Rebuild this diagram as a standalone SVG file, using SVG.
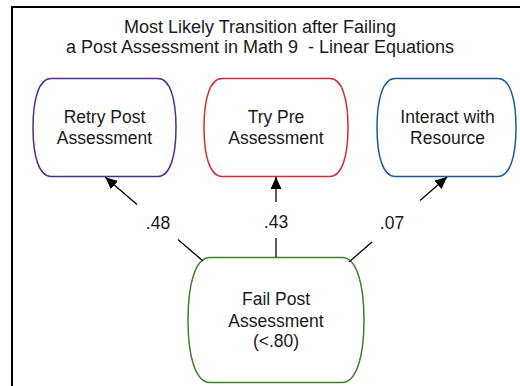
<svg xmlns="http://www.w3.org/2000/svg" width="520" height="386" viewBox="0 0 520 386">
<defs>
<style>
text{font-family:"Liberation Sans",Arial,Helvetica,sans-serif;font-size:17.5px;fill:#1a1a1a;text-anchor:middle}
.title{font-size:18px;white-space:pre}
.node{fill:#fff;stroke-width:1.5}
.edge{stroke:#000;stroke-width:1.3;fill:none}
</style>
<marker id="ah" viewBox="0 0 12 11" refX="12" refY="5.5" markerWidth="12" markerHeight="11" markerUnits="userSpaceOnUse" orient="auto">
<path d="M0,0 L12,5.5 L0,11 z" fill="#000"/>
</marker>
</defs>
<rect width="520" height="386" fill="#fff"/>
<rect x="12" y="7" width="540" height="420" fill="none" stroke="#000" stroke-width="2"/>
<g id="title">
<text class="title" x="260" y="33">Most Likely Transition after Failing</text>
<text class="title" x="260" y="53" xml:space="preserve">a Post Assessment in Math 9  - Linear Equations</text>
</g>
<g id="retry">
<path class="node" stroke="#502d91" d="M51,78.5 H158 C169.7,78.5 176,98 176,127.5 C176,157 169.7,176.5 158,176.5 H51 C39.3,176.5 33,157 33,127.5 C33,98 39.3,78.5 51,78.5 Z"/>
<text x="104.5" y="123">Retry Post</text>
<text x="104.5" y="144">Assessment</text>
</g>
<g id="trypre">
<path class="node" stroke="#d12b3a" d="M222,78.5 H330 C341.7,78.5 348,98 348,127.5 C348,157 341.7,176.5 330,176.5 H222 C210.3,176.5 204,157 204,127.5 C204,98 210.3,78.5 222,78.5 Z"/>
<text x="276" y="123">Try Pre</text>
<text x="276" y="144">Assessment</text>
</g>
<g id="interact">
<path class="node" stroke="#1d5a9c" d="M395,78.5 H498 C509.7,78.5 516,98 516,127.5 C516,157 509.7,176.5 498,176.5 H395 C383.3,176.5 377,157 377,127.5 C377,98 383.3,78.5 395,78.5 Z"/>
<text x="447.5" y="123">Interact with</text>
<text x="447.5" y="144">Resource</text>
</g>
<g id="fail">
<path class="node" stroke="#3f8125" d="M210,257.5 H342 C356,257.5 364,282 364,320 C364,358 356,382.5 342,382.5 H210 C196,382.5 188,358 188,320 C188,282 196,257.5 210,257.5 Z"/>
<text x="276" y="305">Fail Post</text>
<text x="276" y="327">Assessment</text>
<text x="276" y="347">(&lt;.80)</text>
</g>
<g id="connectors">
<path class="edge" d="M203,261 L178,239.6"/>
<path class="edge" d="M137,204.4 L105.3,177.3" marker-end="url(#ah)"/>
<text x="158" y="229">.48</text>
<path class="edge" d="M276,257 V238"/>
<path class="edge" d="M276,202 V177" marker-end="url(#ah)"/>
<text x="276" y="228">.43</text>
<path class="edge" d="M349,262 L372,242"/>
<path class="edge" d="M420,200.4 L447,177" marker-end="url(#ah)"/>
<text x="392" y="229">.07</text>
</g>
</svg>
